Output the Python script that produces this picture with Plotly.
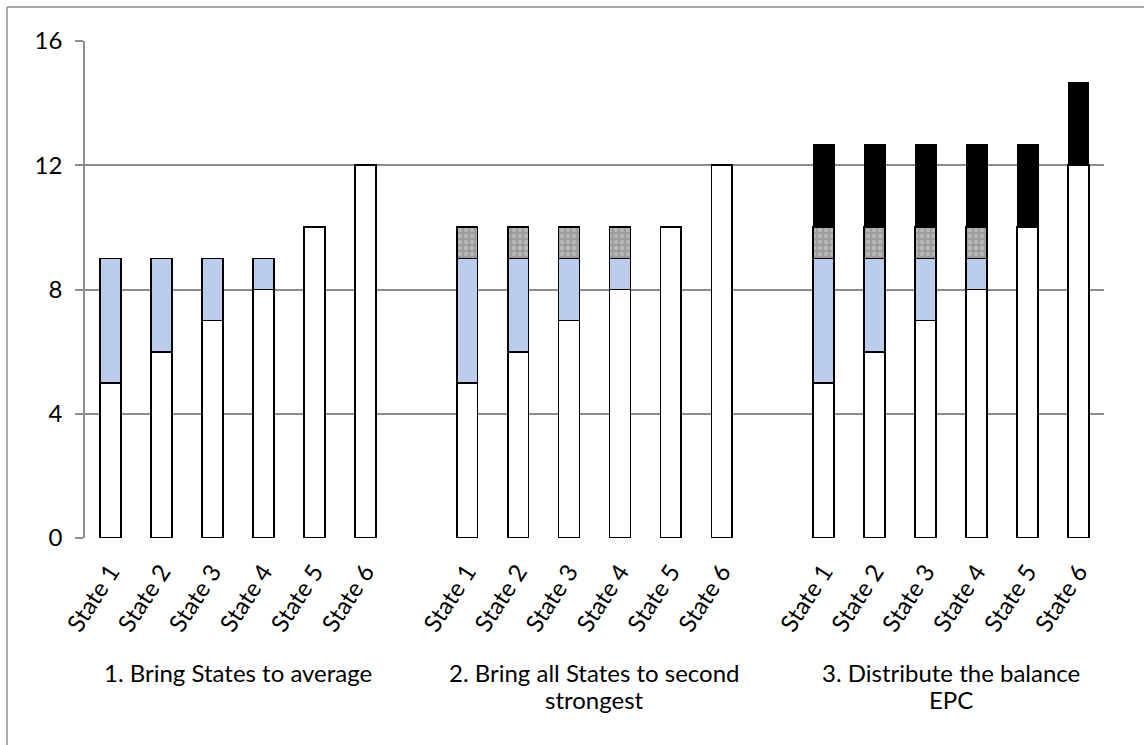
import plotly.graph_objects as go

# ---- data ----
states = ["State 1", "State 2", "State 3", "State 4", "State 5", "State 6"]
group_line1 = ["1. Bring States to average",
               "2. Bring all States to second",
               "3. Distribute the balance"]
group_line2 = ["", "strongest", "EPC"]
base_values = [5, 6, 7, 8, 10, 12]
avg_topup = [4, 3, 2, 1, 0, 0]
second_topup = [1, 1, 1, 1, 0, 0]
balance_epc = [2.67, 2.67, 2.67, 2.67, 2.67, 2.67]

# positions: 6 bars per group, one empty slot between groups
xpos = []
group_centers = []
for g in range(3):
    start = g * 7
    xpos.append([start + i for i in range(6)])
    group_centers.append(start + 2.5)
all_x = [x for xs in xpos for x in xs]
ticktext = states * 3

W = 0.41
edge = dict(color="black", width=1.8)

fig = go.Figure()

fig.add_trace(go.Bar(x=all_x, y=base_values * 3, width=W,
                     marker=dict(color="white", line=edge), showlegend=False))
fig.add_trace(go.Bar(x=all_x, y=avg_topup * 3, width=W,
                     marker=dict(color="#BCCDEC", line=edge), showlegend=False))
g23_x = xpos[1] + xpos[2]
fig.add_trace(go.Bar(x=g23_x, y=second_topup * 2, width=W,
                     marker=dict(color="#A0A0A0", line=edge,
                                 pattern=dict(shape=".", bgcolor="#9C9C9C",
                                              fgcolor="#D2D2D2", size=6, solidity=0.45)),
                     showlegend=False))
fig.add_trace(go.Bar(x=xpos[2], y=balance_epc, width=W,
                     marker=dict(color="black", line=dict(color="black", width=1)),
                     showlegend=False))

FONT = "Lato, 'Open Sans', sans-serif"
FS = 24

PLOT_TOP, PLOT_BOT = 41, 538
PH = PLOT_BOT - PLOT_TOP

def py(pix):
    return (PLOT_BOT - pix) / PH

for cx, l1, l2 in zip(group_centers, group_line1, group_line2):
    fig.add_annotation(x=cx, xref="x", y=py(672), yref="paper", text=l1,
                       showarrow=False, yanchor="middle",
                       font=dict(family=FONT, size=FS, color="black"))
    if l2:
        fig.add_annotation(x=cx, xref="x", y=py(699), yref="paper", text=l2,
                           showarrow=False, yanchor="middle",
                           font=dict(family=FONT, size=FS, color="black"))

# outer frame (left and top edges visible)
fx = (7 - 85) / (1104 - 85)
fig.add_shape(type="line", xref="paper", yref="paper",
              x0=fx, x1=1.2, y0=py(7), y1=py(7),
              line=dict(color="#8C8C8C", width=1.5))
fig.add_shape(type="line", xref="paper", yref="paper",
              x0=fx, x1=fx, y0=-0.6, y1=py(7),
              line=dict(color="#8C8C8C", width=1.5))

fig.update_layout(
    barmode="stack",
    width=1144, height=745,
    margin=dict(l=85, r=40, t=41, b=207),
    plot_bgcolor="white", paper_bgcolor="white",
    font=dict(family=FONT, size=FS, color="black"),
    xaxis=dict(range=[-0.5, 19.5], tickmode="array", tickvals=all_x,
               ticktext=ticktext, tickangle=-57, showgrid=False,
               ticks="", showline=False, zeroline=False,
               ticklabelstandoff=14,
               tickfont=dict(family=FONT, size=FS, color="black")),
    yaxis=dict(range=[0, 16], tickvals=[0, 4, 8, 12, 16], showgrid=True,
               gridcolor="#8C8C8C", gridwidth=1.5, zeroline=False,
               showline=True, linecolor="#8C8C8C", linewidth=1.5,
               ticks="outside", ticklen=8, tickcolor="#8C8C8C", tickwidth=1.5,
               ticklabelstandoff=8,
               tickfont=dict(family=FONT, size=FS, color="black")),
)

fig.write_html("out.html", config={"displayModeBar": False},
               post_script="document.body.style.margin='0';")
